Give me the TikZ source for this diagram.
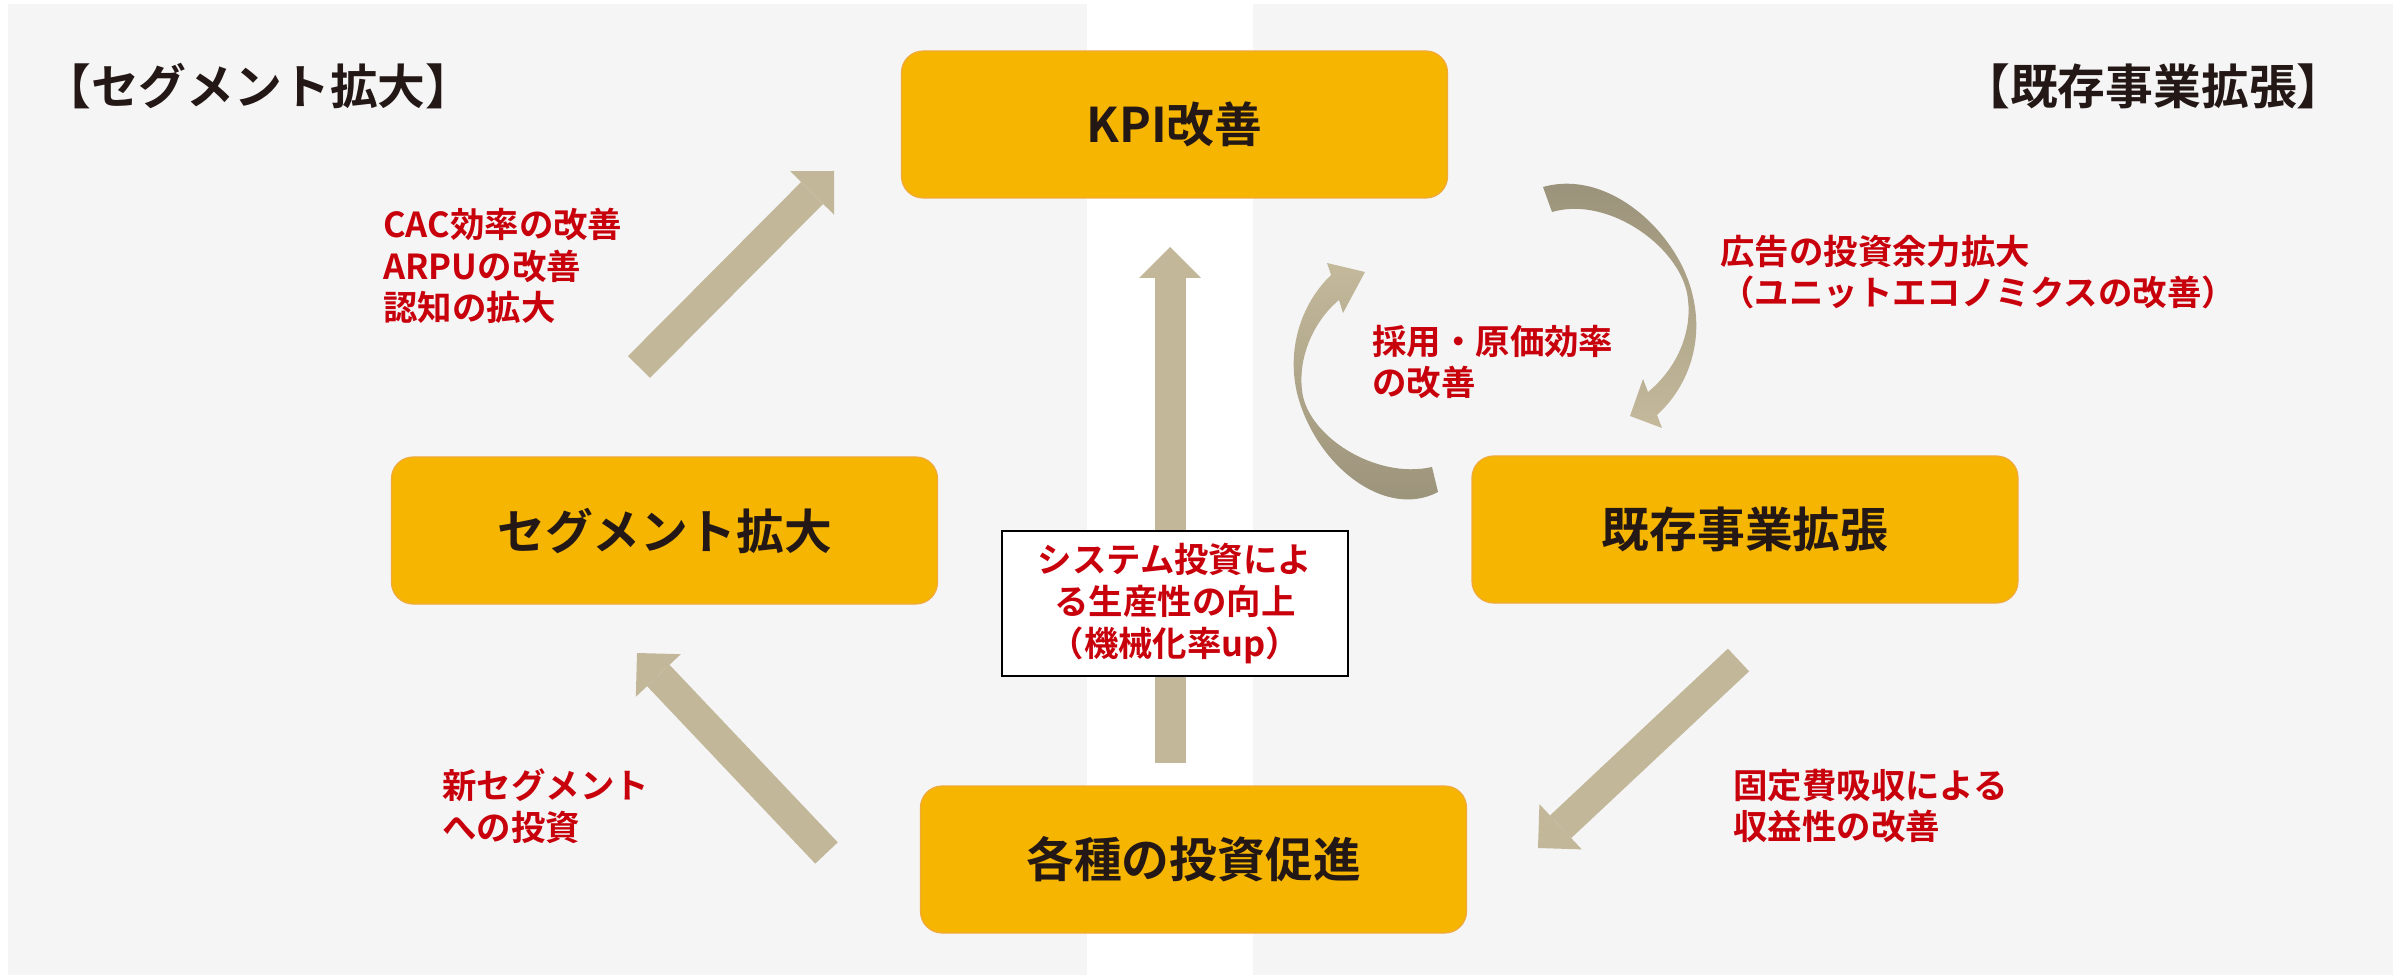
\documentclass[tikz,border=0pt]{standalone}
\usepackage{xcolor}
\usepackage{fontspec}
\setmainfont{Noto Sans CJK JP}[BoldFont={Noto Sans CJK JP Bold}]
\usepackage{tikz}
\usetikzlibrary{arrows.meta, positioning}
\definecolor{panelgray}{HTML}{F5F5F5}
\definecolor{boxorange}{HTML}{F6B500}
\definecolor{boxedge}{HTML}{F0A93C}
\definecolor{arrowtan}{HTML}{C2B799}
\definecolor{arcdark}{HTML}{989078}
\definecolor{arclight}{HTML}{C4B99B}
\definecolor{notered}{HTML}{C8000B}
\definecolor{inkblack}{HTML}{231815}
\newcommand\bigfont{\fontsize{34}{40}\selectfont\bfseries}
\newcommand\notefont{\fontsize{24.5}{29.6}\selectfont\bfseries}

\begin{document}
\begin{tikzpicture}[x=0.25mm, y=-0.25mm,
    stage/.style={draw=boxedge, line width=0.3mm, fill=boxorange, rounded corners=5.4mm,
        minimum width=136.5mm, minimum height=36.75mm, font=\bigfont, text=inkblack},
    heading/.style={font=\bigfont, text=inkblack, inner sep=0pt},
    note/.style={font=\notefont, text=notered, align=left, inner sep=0pt, anchor=west},
    flow/.style={line width=7.75mm, arrowtan, -{Triangle[length=7.75mm, width=15.5mm, line width=0pt]}}]
    \useasboundingbox (0,0) rectangle (2402,979);

    % background panels
    \fill[panelgray] (8,4) rectangle (1087,975);
    \fill[panelgray] (1253,4) rectangle (2393,975);

    \node[heading, anchor=west] (segtitle) at (43,86) {【セグメント拡大】};
    \node[heading, anchor=east] (coretitle) at (2345,86) {【既存事業拡張】};

    % boxes
    \node[stage] (kpi) at (1174.5,124.5) {KPI改善};
    \node[stage] (segment) at (664.5,530.5) {セグメント拡大};
    \node[stage] (existing) at (1745,529.5) {既存事業拡張};
    \node[stage] (invest) at (1193.5,859.5) {各種の投資促進};

    % arrow ends
    \coordinate (segout) at (639,367);
    \coordinate (kpiin) at (834,171);
    \coordinate (invout) at (826.5,853);
    \coordinate (segin) at (637,653);
    \coordinate (exout) at (1738.5,660);
    \coordinate (invin) at (1538,848);
    \coordinate (sysout) at (1170,763);
    \coordinate (sysin) at (1170,247);

    \draw[flow] (segout) -- (kpiin);
    \draw[flow] (invout) -- (segin);
    \draw[flow] (exout) -- (invin);
    \draw[flow] (sysout) -- (sysin);

    % loop between KPI and existing business
    \shade[top color=arcdark, bottom color=arclight]
        (1543,187) .. controls (1610,168) and (1680,235) .. (1693,297)
        .. controls (1703,340) and (1690,385) .. (1657,415)
        -- (1662,428) -- (1630,416) -- (1643,379) -- (1648,392)
        .. controls (1675,370) and (1692,335) .. (1688,300)
        .. controls (1684,250) and (1610,195) .. (1552,212) -- cycle;
    \shade[top color=arclight, bottom color=arcdark]
        (1438,492) .. controls (1385,520) and (1315,465) .. (1297,393)
        .. controls (1287,350) and (1300,305) .. (1331,275)
        -- (1327,263) -- (1365,272) -- (1343,313) -- (1339,300)
        .. controls (1315,320) and (1298,355) .. (1302,390)
        .. controls (1306,435) and (1375,480) .. (1432,467) -- cycle;

    \node[draw=black, line width=0.6mm, fill=white, minimum width=86.5mm, minimum height=36.25mm,
        font=\notefont, text=notered, align=center] (sysbox) at (1175,603.5)
        {システム投資によ\\る生産性の向上\\（機械化率up）};

    % labels
    \node[note] (cac) at (383,266) {CAC効率の改善\\ARPUの改善\\認知の拡大};
    \node[note] (newseg) at (442,806) {新セグメント\\への投資};
    \node[note] (adv) at (1720,272) {広告の投資余力拡大\\（ユニットエコノミクスの改善）};
    \node[note] (hire) at (1372,362) {採用・原価効率\\の改善};
    \node[note] (fixed) at (1733,806) {固定費吸収による\\収益性の改善};
\end{tikzpicture}
\end{document}
